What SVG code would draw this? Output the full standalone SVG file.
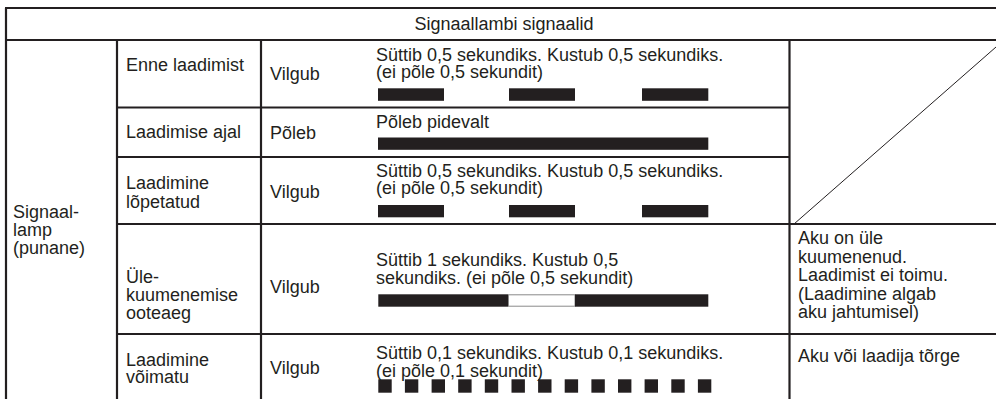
<svg xmlns="http://www.w3.org/2000/svg" width="996" height="399" viewBox="0 0 996 399">
<style>
text{font-family:"Liberation Sans",Arial,sans-serif;font-size:18px;fill:#231f20}
.g{stroke:#231f20;stroke-width:2.2;fill:none}
.d{stroke:#231f20;stroke-width:1;fill:none}
.b{fill:#231f20}
</style>
<rect width="996" height="399" fill="#fff"/>
<g id="grid">
<line class="g" x1="5" y1="8" x2="996" y2="8"/>
<line class="g" x1="6" y1="8" x2="6" y2="399"/>
<line class="g" x1="6" y1="40" x2="996" y2="40"/>
<line class="g" x1="117" y1="40" x2="117" y2="399"/>
<line class="g" x1="261" y1="40" x2="261" y2="399"/>
<line class="g" x1="789.5" y1="40" x2="789.5" y2="399"/>
<line class="g" x1="117" y1="107.5" x2="789.5" y2="107.5"/>
<line class="g" x1="117" y1="157" x2="789.5" y2="157"/>
<line class="g" x1="117" y1="224" x2="996" y2="224"/>
<line class="g" x1="117" y1="334" x2="996" y2="334"/>
<line class="d" x1="794" y1="224" x2="1004" y2="40"/>
</g>
<g id="header">
<text x="504" y="30" text-anchor="middle">Signaallambi signaalid</text>
</g>
<g id="lamp">
<text x="13" y="217.5">Signaal-</text>
<text x="13" y="236">lamp</text>
<text x="13" y="254">(punane)</text>
</g>
<g id="row1">
<text x="126" y="71">Enne laadimist</text>
<text x="270" y="79.5">Vilgub</text>
<text x="376" y="60.7">Süttib 0,5 sekundiks. Kustub 0,5 sekundiks.</text>
<text x="376" y="78.3">(ei põle 0,5 sekundit)</text>
<rect class="b" x="378" y="88.3" width="66" height="12.5"/>
<rect class="b" x="509" y="88.3" width="66" height="12.5"/>
<rect class="b" x="642" y="88.3" width="66.3" height="12.5"/>
</g>
<g id="row2">
<text x="126" y="138">Laadimise ajal</text>
<text x="270" y="139">Põleb</text>
<text x="376" y="127.5">Põleb pidevalt</text>
<rect class="b" x="378" y="137.5" width="330.3" height="12.3"/>
</g>
<g id="row3">
<text x="126" y="189">Laadimine</text>
<text x="126" y="207.7">lõpetatud</text>
<text x="270" y="197.7">Vilgub</text>
<text x="376" y="176.7">Süttib 0,5 sekundiks. Kustub 0,5 sekundiks.</text>
<text x="376" y="194.3">(ei põle 0,5 sekundit)</text>
<rect class="b" x="378" y="205" width="66" height="12.3"/>
<rect class="b" x="509" y="205" width="66" height="12.3"/>
<rect class="b" x="642" y="205" width="66.3" height="12.3"/>
</g>
<g id="row4">
<text x="126" y="283.3">Üle-</text>
<text x="126" y="301">kuumenemise</text>
<text x="126" y="318.7">ooteaeg</text>
<text x="270" y="293.3">Vilgub</text>
<text x="376" y="266">Süttib 1 sekundiks. Kustub 0,5</text>
<text x="376" y="284">sekundiks. (ei põle 0,5 sekundit)</text>
<rect class="b" x="378.3" y="294.3" width="130" height="12.4"/>
<rect x="508.5" y="294.8" width="66.5" height="11.4" fill="#fff" stroke="#8a8a8a" stroke-width="1"/>
<rect class="b" x="575" y="294.3" width="133.3" height="12.4"/>
<text x="798" y="244.3">Aku on üle</text>
<text x="798" y="262.7">kuumenenud.</text>
<text x="798" y="281.1">Laadimist ei toimu.</text>
<text x="798" y="299.5">(Laadimine algab</text>
<text x="798" y="318">aku jahtumisel)</text>
</g>
<g id="row5">
<text x="126" y="365.7">Laadimine</text>
<text x="126" y="383.3">võimatu</text>
<text x="270" y="374">Vilgub</text>
<text x="376" y="359.3">Süttib 0,1 sekundiks. Kustub 0,1 sekundiks.</text>
<text x="376" y="376.7">(ei põle 0,1 sekundit)</text>
<rect class="b" x="378.3" y="379.3" width="13.4" height="13.4"/>
<rect class="b" x="404.9" y="379.3" width="13.4" height="13.4"/>
<rect class="b" x="431.6" y="379.3" width="13.4" height="13.4"/>
<rect class="b" x="458.2" y="379.3" width="13.4" height="13.4"/>
<rect class="b" x="484.8" y="379.3" width="13.4" height="13.4"/>
<rect class="b" x="511.5" y="379.3" width="13.4" height="13.4"/>
<rect class="b" x="538.1" y="379.3" width="13.4" height="13.4"/>
<rect class="b" x="564.7" y="379.3" width="13.4" height="13.4"/>
<rect class="b" x="591.4" y="379.3" width="13.4" height="13.4"/>
<rect class="b" x="618" y="379.3" width="13.4" height="13.4"/>
<rect class="b" x="644.6" y="379.3" width="13.4" height="13.4"/>
<rect class="b" x="671.3" y="379.3" width="13.4" height="13.4"/>
<rect class="b" x="697.9" y="379.3" width="13.4" height="13.4"/>
<text x="798" y="362">Aku või laadija tõrge</text>
</g>
</svg>
